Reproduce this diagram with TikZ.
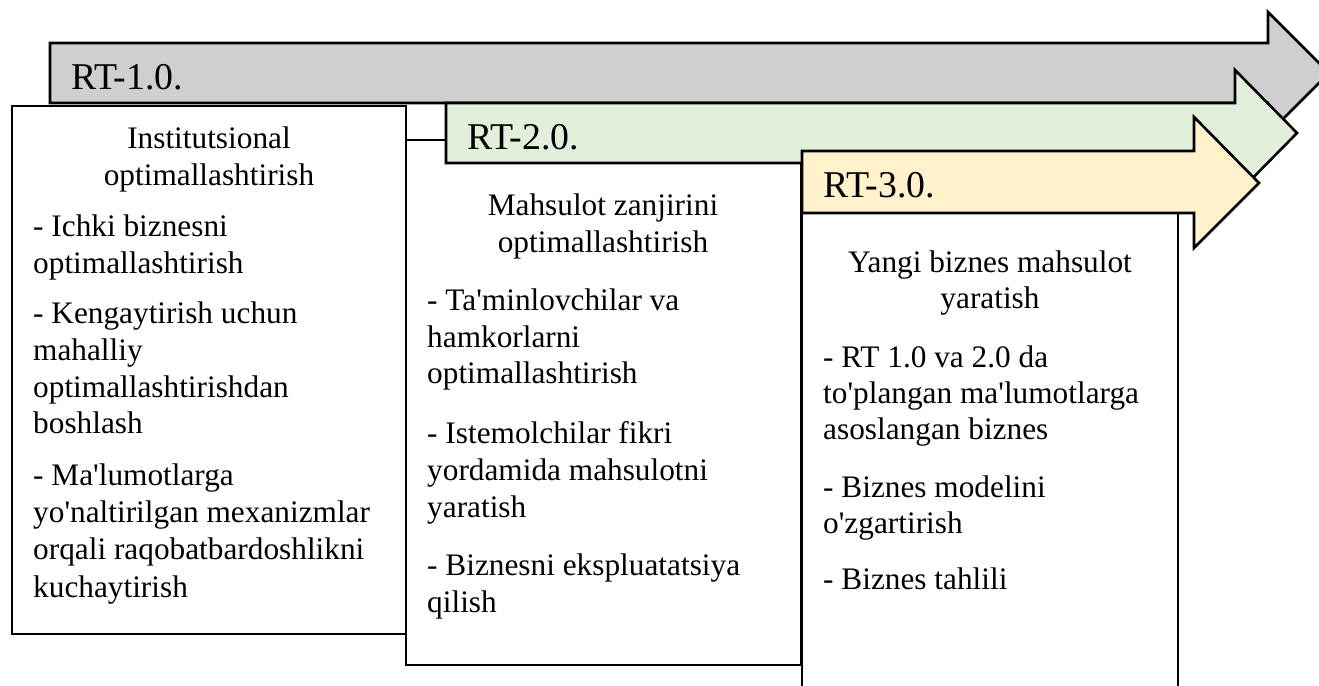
\documentclass[tikz,border=0pt]{standalone}
\usepackage{fontspec}
\newfontfamily\bodyfont{Liberation Serif}
\definecolor{grayA}{RGB}{208,206,206}
\definecolor{greenA}{RGB}{226,239,218}
\definecolor{yellowA}{RGB}{255,242,204}
\begin{document}
\begin{tikzpicture}[x=1pt,y=-1pt,
  edge/.style={draw=black,line width=2.6pt,line join=miter},
  rt/.style={anchor=base west,inner sep=0pt,font=\bodyfont\fontsize{37.8}{40}\selectfont},
  txt/.style={anchor=base west,inner sep=0pt,font=\bodyfont\fontsize{31.3}{36}\selectfont},
  ctr/.style={anchor=base,inner sep=0pt,font=\bodyfont\fontsize{31.3}{36}\selectfont}]
\clip (0,0) rectangle (1319,685);
\fill[white] (0,0) rectangle (1319,685);
% RT-1.0 arrow
\draw[edge,fill=grayA] (50,43) -- (1268,43) -- (1268,12) -- (1329,73) -- (1268,134) -- (1268,103) -- (50,103) -- cycle;
\node[rt] (rt1) at (71,89) {RT-1.0.};
% box 1
\draw[edge,fill=white] (12,106) rectangle (406,634);
% box 2
\draw[edge,fill=white] (406,140) rectangle (801,665);
% RT-2.0 arrow
\draw[edge,fill=greenA] (446,103) -- (1235,103) -- (1235,70) -- (1297,133) -- (1235,196) -- (1235,163) -- (446,163) -- cycle;
\node[rt] (rt2) at (467,149) {RT-2.0.};
% box 3
\draw[edge,fill=white] (802,190) rectangle (1178,720);
% RT-3.0 arrow
\draw[edge,fill=yellowA] (802,151) -- (1194,151) -- (1194,117) -- (1259,183) -- (1194,248) -- (1194,213) -- (802,213) -- cycle;
\node[rt] (rt3) at (823,197) {RT-3.0.};
% box 1 text
\node[ctr] (h1a) at (209,148) {Institutsional};
\node[ctr] (h1b) at (209,185) {optimallashtirish};
\node[txt] (a1) at (33,236) {- Ichki biznesni};
\node[txt] (a2) at (33,273) {optimallashtirish};
\node[txt] (a3) at (33,323) {- Kengaytirish uchun};
\node[txt] (a4) at (33,360) {mahalliy};
\node[txt] (a5) at (33,397) {optimallashtirishdan};
\node[txt] (a6) at (33,433) {boshlash};
\node[txt] (a7) at (33,485) {- Ma'lumotlarga};
\node[txt] (a8) at (33,522) {yo'naltirilgan mexanizmlar};
\node[txt] (a9) at (33,559) {orqali raqobatbardoshlikni};
\node[txt] (a10) at (33,597) {kuchaytirish};
% box 2 text
\node[ctr] (h2a) at (603,215) {Mahsulot zanjirini};
\node[ctr] (h2b) at (603,252) {optimallashtirish};
\node[txt] (b1) at (427,310) {- Ta'minlovchilar va};
\node[txt] (b2) at (427,347) {hamkorlarni};
\node[txt] (b3) at (427,383) {optimallashtirish};
\node[txt] (b4) at (427,443) {- Istemolchilar fikri};
\node[txt] (b5) at (427,480) {yordamida mahsulotni};
\node[txt] (b6) at (427,517) {yaratish};
\node[txt] (b7) at (427,575) {- Biznesni ekspluatatsiya};
\node[txt] (b8) at (427,612) {qilish};
% box 3 text
\node[ctr] (h3a) at (990,272) {Yangi biznes mahsulot};
\node[ctr] (h3b) at (990,308) {yaratish};
\node[txt] (c1) at (823,367) {- RT 1.0 va 2.0 da};
\node[txt] (c2) at (823,403) {to'plangan ma'lumotlarga};
\node[txt] (c3) at (823,439) {asoslangan biznes};
\node[txt] (c4) at (823,497) {- Biznes modelini};
\node[txt] (c5) at (823,533) {o'zgartirish};
\node[txt] (c6) at (823,589) {- Biznes tahlili};
\end{tikzpicture}
\end{document}
